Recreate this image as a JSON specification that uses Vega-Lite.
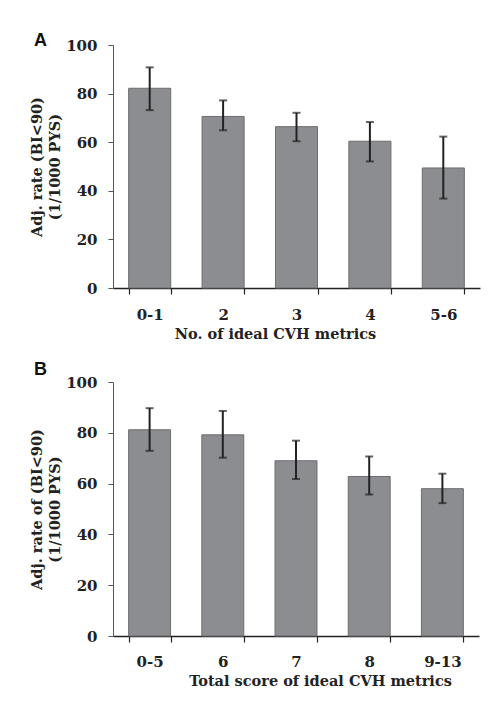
{
  "$schema": "https://vega.github.io/schema/vega-lite/v6.json",
  "background": "white",
  "padding": {"left": 29, "top": 32, "right": 5, "bottom": 5},
  "spacing": 20,
  "config": {
    "view": {"stroke": null},
    "axis": {
      "grid": false,
      "labelFont": "DejaVu Serif",
      "labelFontWeight": "bold",
      "labelFontSize": 15,
      "labelColor": "#222",
      "titleFont": "DejaVu Serif",
      "titleFontWeight": "bold",
      "titleFontSize": 14.5,
      "titleColor": "#222"
    },
    "title": {
      "font": "Liberation Sans",
      "fontSize": 18,
      "fontWeight": "bold",
      "anchor": "start",
      "frame": "group",
      "baseline": "bottom",
      "color": "#111"
    }
  },
  "vconcat": [
    {
      "title": {"text": "A", "dx": -79, "offset": -12},
      "width": 367,
      "height": 243,
      "data": {
        "values": [
          {"cat": "0-1", "value": 82.2, "lo": 73.2, "hi": 90.8},
          {"cat": "2", "value": 70.6, "lo": 64.9, "hi": 77.2},
          {"cat": "3", "value": 66.4, "lo": 60.4, "hi": 72.1},
          {"cat": "4", "value": 60.4, "lo": 52.1, "hi": 68.3},
          {"cat": "5-6", "value": 49.4, "lo": 36.8, "hi": 62.3}
        ]
      },
      "encoding": {
        "x": {
          "field": "cat",
          "type": "nominal",
          "sort": null,
          "scale": {"paddingInner": 0.427, "paddingOuter": 0.2135},
          "axis": {
            "title": "No. of ideal CVH metrics",
            "labelAngle": 0,
            "tickBand": "extent",
            "tickSize": 6,
            "labelPadding": 13,
            "domainColor": "#222",
            "domainWidth": 1.5,
            "tickColor": "#222",
            "tickWidth": 1.2,
            "titleX": 162,
            "titlePadding": 5
          }
        }
      },
      "layer": [
        {
          "mark": {"type": "bar", "fill": "#8c8d91", "stroke": "#6d6d6d", "strokeWidth": 1},
          "encoding": {
            "y": {
              "field": "value",
              "type": "quantitative",
              "scale": {"domain": [0, 100]},
              "axis": {
                "title": ["Adj. rate (BI<90)", "(1/1000 PYS)"],
                "values": [0, 20, 40, 60, 80, 100],
                "tickSize": 5,
                "labelPadding": 11,
                "domainColor": "#555",
                "tickColor": "#555",
                "titleLineHeight": 18,
                "titlePadding": 3
              }
            }
          }
        },
        {
          "mark": {"type": "rule", "color": "#222", "strokeWidth": 2},
          "encoding": {
            "y": {"field": "lo", "type": "quantitative"},
            "y2": {"field": "hi"}
          }
        },
        {
          "mark": {"type": "tick", "color": "#222", "thickness": 2, "size": 8, "orient": "horizontal"},
          "encoding": {"y": {"field": "lo", "type": "quantitative"}}
        },
        {
          "mark": {"type": "tick", "color": "#222", "thickness": 2, "size": 8, "orient": "horizontal"},
          "encoding": {"y": {"field": "hi", "type": "quantitative"}}
        }
      ]
    },
    {
      "title": {"text": "B", "dx": -79, "offset": -4},
      "width": 366,
      "height": 254,
      "data": {
        "values": [
          {"cat": "0-5", "value": 81.2, "lo": 72.9, "hi": 89.7},
          {"cat": "6", "value": 79.2, "lo": 70.2, "hi": 88.6},
          {"cat": "7", "value": 69.0, "lo": 61.8, "hi": 76.9},
          {"cat": "8", "value": 62.8, "lo": 55.7, "hi": 70.7},
          {"cat": "9-13", "value": 58.0, "lo": 52.3, "hi": 63.9}
        ]
      },
      "encoding": {
        "x": {
          "field": "cat",
          "type": "nominal",
          "sort": null,
          "scale": {"paddingInner": 0.427, "paddingOuter": 0.2135},
          "axis": {
            "title": "Total score of ideal CVH metrics",
            "labelAngle": 0,
            "tickBand": "extent",
            "tickSize": 6,
            "labelPadding": 12,
            "domainColor": "#222",
            "domainWidth": 1.5,
            "tickColor": "#222",
            "tickWidth": 1.2,
            "titleX": 207,
            "titlePadding": 5
          }
        }
      },
      "layer": [
        {
          "mark": {"type": "bar", "fill": "#8c8d91", "stroke": "#6d6d6d", "strokeWidth": 1},
          "encoding": {
            "y": {
              "field": "value",
              "type": "quantitative",
              "scale": {"domain": [0, 100]},
              "axis": {
                "title": ["Adj. rate of (BI<90)", "(1/1000 PYS)"],
                "values": [0, 20, 40, 60, 80, 100],
                "tickSize": 5,
                "labelPadding": 11,
                "domainColor": "#555",
                "tickColor": "#555",
                "titleLineHeight": 18,
                "titlePadding": 3
              }
            }
          }
        },
        {
          "mark": {"type": "rule", "color": "#222", "strokeWidth": 2},
          "encoding": {
            "y": {"field": "lo", "type": "quantitative"},
            "y2": {"field": "hi"}
          }
        },
        {
          "mark": {"type": "tick", "color": "#222", "thickness": 2, "size": 8, "orient": "horizontal"},
          "encoding": {"y": {"field": "lo", "type": "quantitative"}}
        },
        {
          "mark": {"type": "tick", "color": "#222", "thickness": 2, "size": 8, "orient": "horizontal"},
          "encoding": {"y": {"field": "hi", "type": "quantitative"}}
        }
      ]
    }
  ]
}
